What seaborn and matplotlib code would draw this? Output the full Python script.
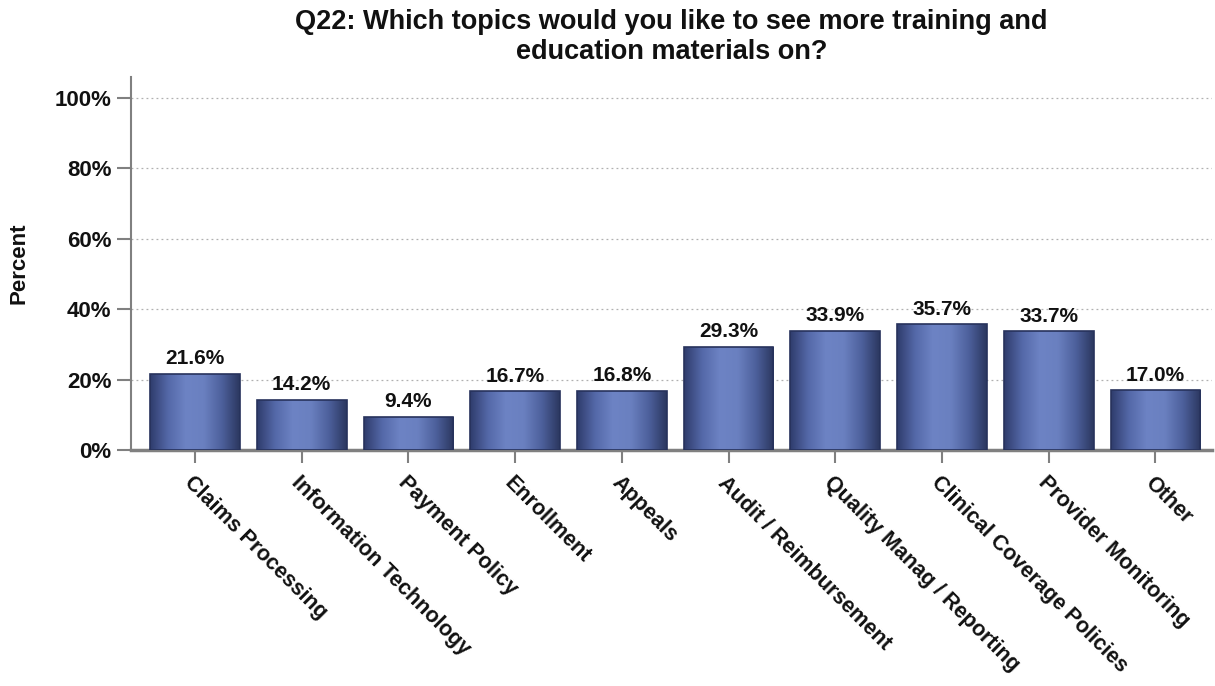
import numpy as np
import pandas as pd
import matplotlib
matplotlib.use("Agg")
import matplotlib.pyplot as plt
import seaborn as sns
from matplotlib.colors import LinearSegmentedColormap

categories = ["Claims Processing", "Information Technology", "Payment Policy",
              "Enrollment", "Appeals", "Audit / Reimbursement",
              "Quality Manag / Reporting", "Clinical Coverage Policies",
              "Provider Monitoring", "Other"]
values = [21.6, 14.2, 9.4, 16.7, 16.8, 29.3, 33.9, 35.7, 33.7, 17.0]
yticks = [0, 20, 40, 60, 80, 100]
title = "Q22: Which topics would you like to see more training and\neducation materials on?"

sns.set_theme(style="white")
plt.rcParams["font.family"] = ["Liberation Sans", "DejaVu Sans"]
plt.rcParams["font.weight"] = "bold"
plt.rcParams["text.color"] = "#111111"
plt.rcParams["xtick.labelcolor"] = "#111111"
plt.rcParams["ytick.labelcolor"] = "#111111"
plt.rcParams["axes.labelcolor"] = "#111111"

fig = plt.figure(figsize=(12.15, 6.86), dpi=100)
ax = fig.add_axes([0.1078, 0.344, 0.8897, 0.544])

df = pd.DataFrame({"topic": categories, "pct": values})
sns.barplot(data=df, x="topic", y="pct", ax=ax, width=0.84,
            color="#5a6fb0", edgecolor="#27325c", linewidth=1.2, zorder=3)

# horizontal shading across each bar: dark edges, light middle
cmap = LinearSegmentedColormap.from_list(
    "barshade", ["#2f3c6c", "#5468a8", "#6d83c4", "#6a80c0", "#4d609c", "#2b375f"])
grad = np.linspace(0, 1, 256).reshape(1, -1)
for patch in ax.patches:
    x0, y0 = patch.get_x(), patch.get_y()
    w, h = patch.get_width(), patch.get_height()
    im = ax.imshow(grad, cmap=cmap, aspect="auto", extent=(x0, x0 + w, y0, y0 + h),
                   zorder=3.5, interpolation="bicubic")
    im.set_clip_path(patch)
    patch.set_facecolor("none")
    patch.set_zorder(4)
ax.set_xlim(-0.6, 9.53)
ax.set_ylim(0, 106)

for i, v in enumerate(values):
    ax.text(i, v + 1.6, f"{v:.1f}%", ha="center", va="bottom",
            fontsize=15, fontweight="bold", zorder=6)

ax.set_yticks(yticks)
ax.set_yticklabels([f"{t}%" for t in yticks], fontsize=16, fontweight="bold")
ax.yaxis.grid(True, linestyle=(0, (1.5, 2.5)), color="#b0b0b0", linewidth=0.9, zorder=0)
ax.set_axisbelow(True)

ax.set_xticks(range(len(categories)))
ax.set_xticklabels(categories, rotation=-45, ha="left", rotation_mode="anchor",
                   fontsize=15.5, fontweight="bold")
ax.tick_params(axis="x", which="major", direction="out", length=9, width=1.5,
               color="#808080", pad=7, bottom=True)
ax.tick_params(axis="y", which="major", direction="out", length=10, width=1.5,
               color="#808080", pad=4, left=True)

for side in ["top", "right"]:
    ax.spines[side].set_visible(False)
ax.spines["left"].set_color("#808080")
ax.spines["left"].set_linewidth(1.5)
ax.spines["bottom"].set_color("#808080")
ax.spines["bottom"].set_linewidth(2.5)

ax.set_xlabel("")
ax.set_ylabel("Percent", fontsize=16, fontweight="bold", labelpad=18)
ax.set_title(title, fontsize=19.5, fontweight="bold", pad=13, linespacing=1.2)

fig.savefig("out.png", dpi=100)
